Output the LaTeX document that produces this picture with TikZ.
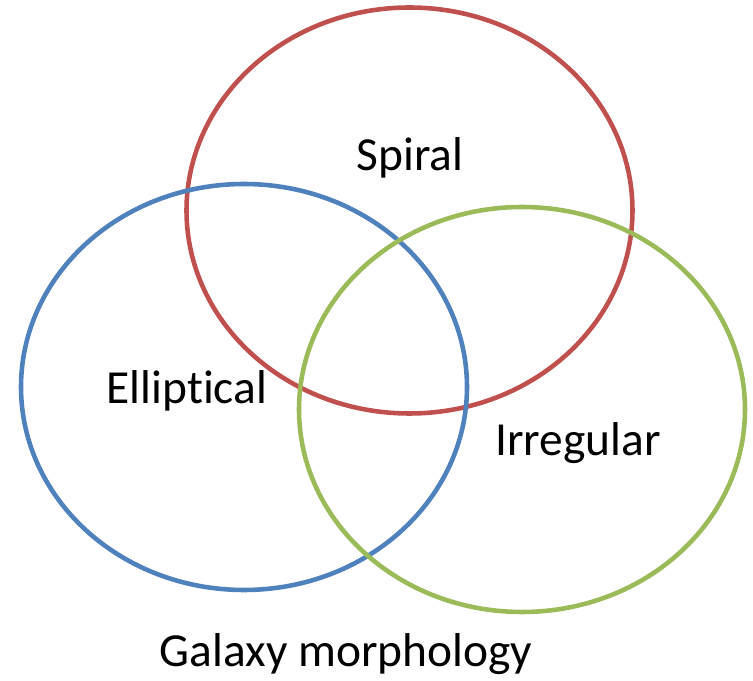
\documentclass[tikz,border=0pt]{standalone}
\usepackage{fontspec}
\setmainfont[Ligatures=NoCommon]{Carlito}
\usetikzlibrary{positioning}
\definecolor{c1}{HTML}{C0504D}
\definecolor{c2}{HTML}{4F81BD}
\definecolor{c3}{HTML}{9BBB59}

\begin{document}
\begin{tikzpicture}[
    every node/.style={font=\fontsize{27}{32}\selectfont, text=black},
    ring/.style={line width=2.6pt},
]
\useasboundingbox (0, 0) rectangle (15.06, 13.62);

% the three classes
\draw[ring, c1] (8.19, 9.41) ellipse [x radius=4.46, y radius=4.06];
\draw[ring, c2] (4.88, 5.88) ellipse [x radius=4.46, y radius=4.06];
\draw[ring, c3] (10.44, 5.43) ellipse [x radius=4.46, y radius=4.05];

\node[anchor=base] (spiral) at (8.20, 10.20) {Spiral};
\node[anchor=base] (elliptical) at (3.74, 5.54) {Elliptical};
\node[anchor=base] (irregular) at (11.56, 4.50) {Irregular};

\node[anchor=base] (title) at (6.92, 0.28) {Galaxy morphology};
\end{tikzpicture}
\end{document}
